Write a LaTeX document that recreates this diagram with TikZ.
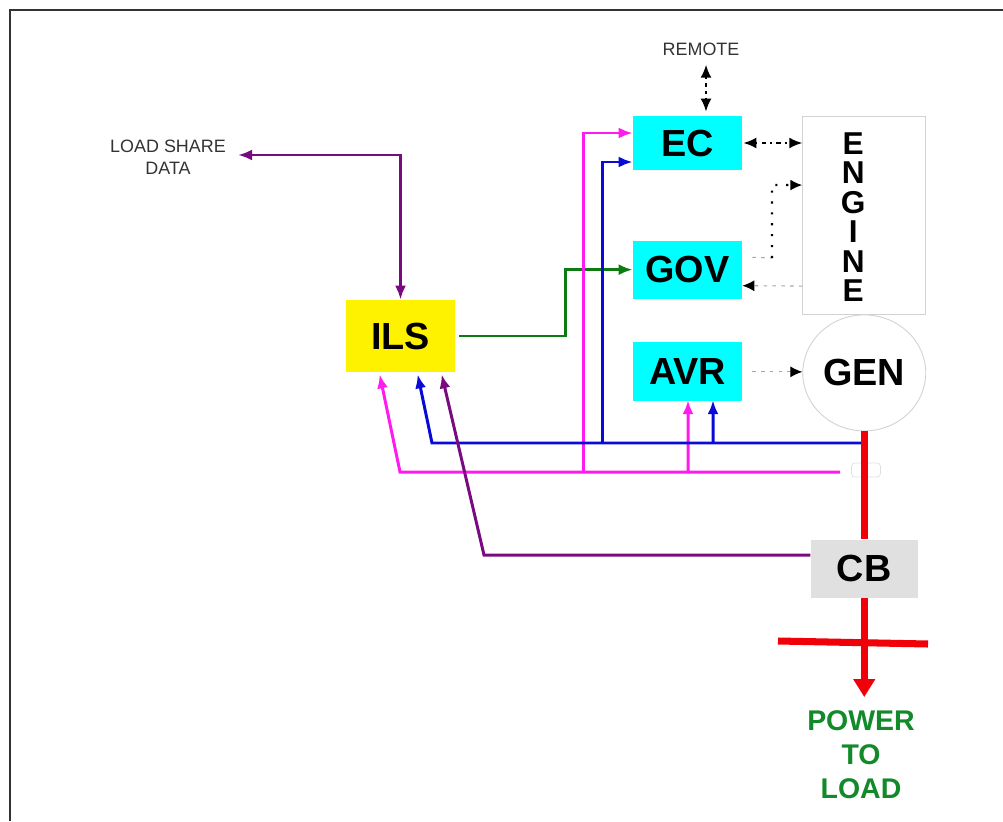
\documentclass[tikz,border=0pt]{standalone}
\usepackage{xcolor}
\usepackage{fontspec}
\setmainfont{Liberation Sans}
\usepackage{tikz}
\usetikzlibrary{arrows.meta,positioning,calc,shapes.geometric}
\definecolor{ctrlcyan}{HTML}{00FFFF}
\definecolor{sharepurple}{HTML}{7A0A80}
\definecolor{fbmagenta}{HTML}{FF1AF0}
\definecolor{fbblue}{HTML}{0A0AD8}
\definecolor{govgreen}{HTML}{0E7A12}
\definecolor{powergreen}{HTML}{128A2A}
\definecolor{powerred}{HTML}{F00008}

\begin{document}
\begin{tikzpicture}[
  x=0.02cm, y=-0.02cm,
  ctrl/.style={rectangle, fill=ctrlcyan, inner sep=0pt, font=\fontsize{21.5}{24}\selectfont\bfseries, minimum width=2.18cm},
  plain/.style={rectangle, draw=gray!35, fill=white, inner sep=0pt, line width=0.5pt},
  small/.style={align=center, inner sep=0pt, text=black!80, font=\fontsize{10.2}{12.5}\selectfont},
  signal/.style={-{Latex[length=2.8mm,width=2.2mm]}, line width=1.7pt},
  ctlline/.style={{Latex[length=2.6mm,width=2.2mm]}-{Latex[length=2.6mm,width=2.2mm]}, line width=1.2pt, dash pattern=on 1.2pt off 2.4pt on 2.4pt off 2.4pt},
  fadeline/.style={-{Latex[black,length=2.4mm,width=2.2mm]}, line width=0.6pt, black!35, dash pattern=on 2pt off 3pt}
]

\useasboundingbox (0,0) rectangle (1003,821);
\draw[line width=1.2pt, black!80] (10,821) -- (10,10) -- (1003,10);

\node[ctrl, minimum height=1.08cm] (ec) at (687.5,143) {EC};
\node[ctrl, minimum height=1.16cm, below=1.4cm of ec] (gov) {GOV};
\node[ctrl, minimum height=1.18cm, below=0.86cm of gov] (avr) {AVR};
\node[ctrl, fill=yellow, minimum height=1.44cm] (ils) at (400.5,336) {ILS};

\node[plain, minimum width=2.46cm, minimum height=3.96cm, right=1.2cm of ec.north east, anchor=north west] (engine) {};
\node[align=center, inner sep=0pt, font=\fontsize{18}{16.8}\selectfont\bfseries] (enginetext) at ([xshift=-0.22cm,yshift=-0.04cm]engine.center) {E\\N\\G\\I\\N\\E};
\node[plain, ellipse, minimum width=2.46cm, minimum height=2.32cm, font=\fontsize{21.5}{24}\selectfont\bfseries, below=0cm of engine] (gen) {GEN};
\node[rectangle, fill=black!12, inner sep=0pt, minimum width=2.14cm, minimum height=1.16cm, font=\fontsize{21.5}{24}\selectfont\bfseries, below=2.16cm of gen] (cb) {CB};
\node[rectangle, rounded corners=2pt, draw=gray!25, minimum width=0.58cm, minimum height=0.28cm, inner sep=0pt] (tap) at (866,470) {};

\node[small] (remote) at (701,49) {REMOTE};
\node[small] (share) at (168,157) {LOAD SHARE\\DATA};
\node[align=center, inner sep=0pt, text=powergreen, font=\fontsize{16.2}{19.3}\selectfont\bfseries] (power) at (861,755) {POWER\\TO\\LOAD};

\coordinate (sharebend) at (400.5,155);
\coordinate (sharetip) at (238,155);
\coordinate (pinkend) at (840,472);
\coordinate (pinkbus) at (400,472);
\coordinate (bluebus) at (432,443);
\coordinate (cbbend) at (484,555);
\coordinate (busleft) at (778,641);
\coordinate (busright) at (928,644);

\draw[signal, {Latex[length=2.8mm,width=2.2mm]}-{Latex[length=2.8mm,width=2.2mm]}, sharepurple] (ils.north) -- (sharebend) -- (sharetip);
\draw[signal, govgreen] ([xshift=0.08cm]ils.east) -- (565,336) |- (gov.west);

\draw[signal, fbmagenta] (pinkend) -- (pinkbus) -- ($(ils.south west)+(34,2)$);
\draw[signal, fbmagenta] (583,472) |- ([yshift=0.2cm]ec.west);
\draw[signal, fbmagenta] (688,472) -- ([xshift=0.01cm,yshift=0.03cm]avr.south);

\draw[signal, fbblue] (863,443) -- (bluebus) -- ($(ils.south west)+(72,2)$);
\draw[signal, fbblue] (602,443) |- ([yshift=-0.38cm]ec.west);
\draw[signal, fbblue] (713,443) -- ([xshift=0.51cm,yshift=0.03cm]avr.south);

\draw[signal, sharepurple] (cb.west |- cbbend) -- (cbbend) -- ($(ils.south west)+(96,2)$);

\draw[powerred, line width=4pt] (gen.south) -- (cb.north);
\draw[powerred, line width=4pt, -{Triangle[length=3.6mm,width=4.2mm]}] (cb.south) -- ++(0,99);
\draw[powerred, line width=4pt] (busleft) -- (busright);

\draw[ctlline] ([xshift=0.1cm,yshift=-0.18cm]remote.south) -- ([xshift=0.1cm,yshift=0.08cm]remote.south |- ec.north);
\draw[ctlline] ([xshift=0.02cm]ec.east) -- (engine.west |- ec.east);
\draw[fadeline, -] ([xshift=0.2cm,yshift=-0.34cm]gov.north east) -- (772,258);
\draw[-{Latex[length=2.4mm,width=2.2mm]}, line width=1.2pt, dash pattern=on 1.2pt off 5pt] (772,258) -- (772,185) -- ([yshift=0.6cm]engine.west);
\draw[fadeline] ([yshift=-1.42cm]engine.west) -- ([yshift=-0.32cm]gov.east);
\draw[fadeline] ([xshift=0.2cm]avr.east) -- (gen.west |- avr.east);

\end{tikzpicture}
\end{document}
